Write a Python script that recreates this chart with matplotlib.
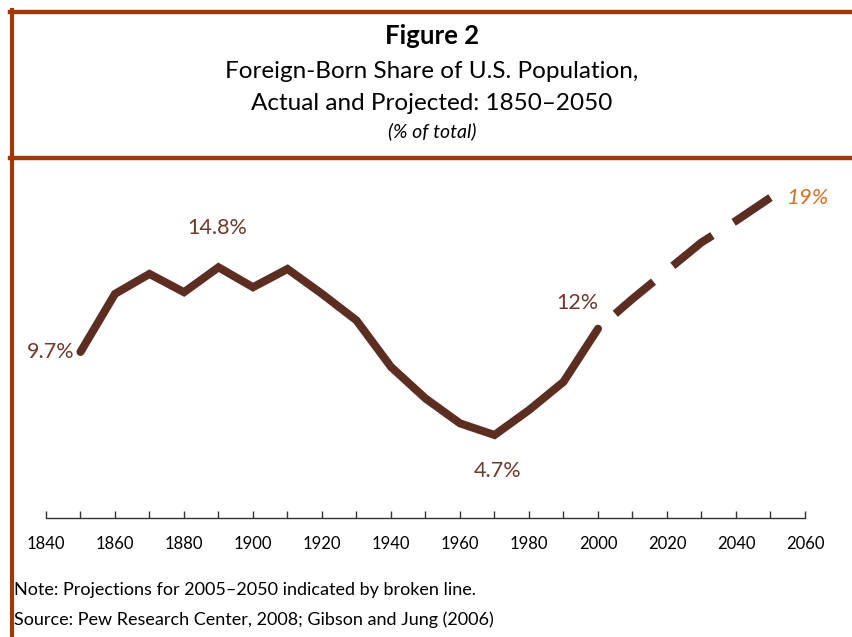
import matplotlib
matplotlib.use("Agg")
import matplotlib.pyplot as plt
from matplotlib.lines import Line2D

# dados: parcela de nascidos no exterior (% da população)
years_actual = [1850, 1860, 1870, 1880, 1890, 1900, 1910, 1920,
                1930, 1940, 1950, 1960, 1970, 1980, 1990, 2000]
share_actual = [9.7, 13.2, 14.4, 13.3, 14.8, 13.6, 14.7, 13.2,
                11.6, 8.8, 6.9, 5.4, 4.7, 6.2, 7.9, 11.1]
years_proj = [2005, 2010, 2020, 2030, 2040, 2050]
share_proj = [12.0, 12.9, 14.6, 16.3, 17.6, 19.0]
tick_years = list(range(1840, 2061, 20))

line_color = "#5c2e22"
label_color = "#6b3a2c"
frame_color = "#a0380a"

plt.rcParams["font.family"] = ["Lato", "DejaVu Sans"]

fig = plt.figure(figsize=(8.52, 6.37), dpi=100)
W, H = 852, 637

ax = fig.add_axes([46 / W, (H - 518) / H, (805 - 46) / W, (518 - 170) / H])
ax.plot(years_actual, share_actual, color=line_color, lw=5.8,
        solid_capstyle="round", solid_joinstyle="miter")
proj, = ax.plot(years_proj, share_proj, color=line_color, lw=5.8,
                dash_capstyle="butt")
proj.set_dashes((6.2, 3.1))

ax.set_xlim(1840, 2060)
ax.set_ylim(-0.3, 20.66)
ax.set_xticks(tick_years)
ax.set_xticks(range(1850, 2060, 20), minor=True)
ax.tick_params(axis="x", which="both", direction="in", length=5,
               width=1, color="#333333", labelsize=12, pad=13)
ax.set_yticks([])
for s in ["top", "right", "left"]:
    ax.spines[s].set_visible(False)
ax.spines["bottom"].set_color("#333333")
ax.spines["bottom"].set_linewidth(1)
ax.spines["bottom"].set_position(("data", -0.3))

# rótulos dos valores
lab = dict(color=label_color, fontsize=15.5)
ax.annotate("9.7%", (1850, 9.7), xytext=(-4, 0), textcoords="offset points",
            ha="right", va="center", **lab)
ax.annotate("14.8%", (1890, 14.8), xytext=(-1, 21), textcoords="offset points",
            ha="center", va="bottom", **lab)
ax.annotate("4.7%", (1970, 4.7), xytext=(2, -19), textcoords="offset points",
            ha="center", va="top", **lab)
ax.annotate("12%", (2005, 12.0), xytext=(-27, 8), textcoords="offset points",
            ha="center", va="center", **lab)
ax.annotate("19%", (2050, 19.0), xytext=(12, 0), textcoords="offset points",
            ha="left", va="center", color="#d2702a", fontsize=16, style="italic")

# moldura do cabeçalho
fig.add_artist(Line2D([11.5 / W, 11.5 / W], [0, 1 - 10 / H], color=frame_color, lw=3))
fig.add_artist(Line2D([10 / W, 1], [1 - 12 / H, 1 - 12 / H], color=frame_color, lw=3.2))
fig.add_artist(Line2D([10 / W, 1], [1 - 158 / H, 1 - 158 / H], color=frame_color, lw=3.2))

cx = 432 / W
fig.text(cx, 1 - 36 / H, "Figure 2", ha="center", va="center",
         fontsize=18.5, fontweight="bold", color="black")
fig.text(cx, 1 - 72 / H, "Foreign-Born Share of U.S. Population,",
         ha="center", va="center", fontsize=17.5)
fig.text(cx, 1 - 103 / H, "Actual and Projected: 1850\u20132050",
         ha="center", va="center", fontsize=17.5)
fig.text(cx, 1 - 131 / H, "(% of total)", ha="center", va="center",
         fontsize=14, style="italic")

fig.text(14 / W, 1 - 590 / H, "Note: Projections for 2005\u20132050 indicated by broken line.",
         ha="left", va="center", fontsize=13)
fig.text(14 / W, 1 - 620 / H, "Source: Pew Research Center, 2008; Gibson and Jung (2006)",
         ha="left", va="center", fontsize=13)

fig.savefig("out.png", dpi=100)
